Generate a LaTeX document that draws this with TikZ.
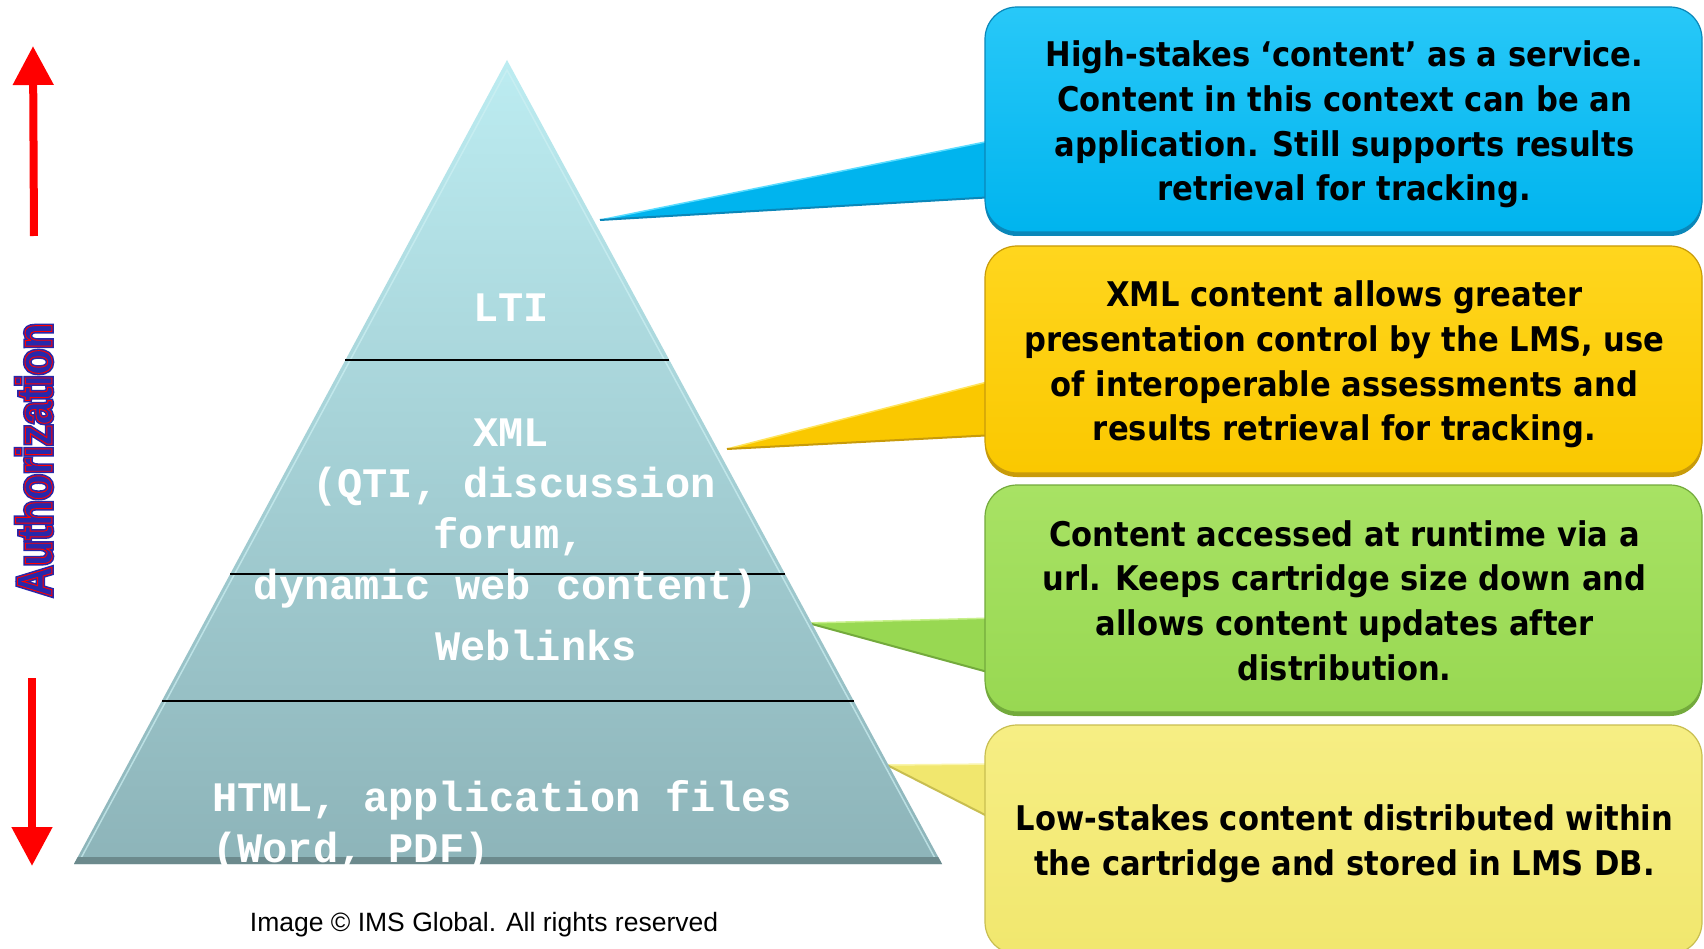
\documentclass[tikz,border=0pt]{standalone}
\usepackage{fontspec}
\setmainfont[FakeStretch=0.9]{DejaVu Sans}
\newfontfamily\monofont{Liberation Mono}
\newfontfamily\capfont{Liberation Sans}
\newfontfamily\authfont[FakeStretch=0.85]{Liberation Sans}
\usetikzlibrary{arrows.meta,shadows,calc}
\pgfdeclarelayer{bg}
\pgfdeclarelayer{tails}
\pgfsetlayers{bg,tails,main}
\definecolor{pyrtop}{RGB}{188,236,241}
\definecolor{pyrbot}{RGB}{141,180,185}
\definecolor{pyrhi}{RGB}{205,240,243}
\definecolor{pyredge}{RGB}{108,138,141}
\definecolor{bluetop}{RGB}{40,200,248}
\definecolor{bluebox}{RGB}{0,180,238}
\definecolor{bluehi}{RGB}{90,220,255}
\definecolor{blueedge}{RGB}{10,135,185}
\definecolor{goldtop}{RGB}{255,214,30}
\definecolor{goldbox}{RGB}{250,200,0}
\definecolor{goldhi}{RGB}{255,228,90}
\definecolor{goldedge}{RGB}{200,155,10}
\definecolor{greentop}{RGB}{168,226,100}
\definecolor{greenbox}{RGB}{152,216,82}
\definecolor{greenhi}{RGB}{200,240,140}
\definecolor{greenedge}{RGB}{115,170,60}
\definecolor{paletop}{RGB}{246,238,132}
\definecolor{palebox}{RGB}{241,231,110}
\definecolor{palehi}{RGB}{250,245,170}
\definecolor{paleedge}{RGB}{200,190,80}
\definecolor{authblue}{RGB}{40,40,170}
\definecolor{arrowred}{RGB}{255,0,0}
\newcommand{\trmode}[2]{\special{pdf:literal direct #1 Tr #2 w}}
\tikzset{
  infobox/.style={rounded corners=32pt, minimum width=717pt, inner sep=0pt,
    line width=1.2pt},
  boxtxt/.style={inner sep=0pt, align=center,
    font=\fontsize{34}{44.6}\selectfont\bfseries, text=black},
  pyrtxt/.style={font=\monofont\bfseries\fontsize{42}{51}\selectfont,
    text=white, inner sep=0pt, anchor=base},
  divider/.style={draw=black, line width=2pt},
  redarrow/.style={draw=arrowred, line width=8pt,
    -{Triangle[width=39pt,length=39pt]}},
  authtxt/.style={rotate=90, inner sep=0pt,
    font=\authfont\bfseries\fontsize{50}{50}\selectfont},
}
\begin{document}
\begin{tikzpicture}[x=1pt,y=-1pt]
\useasboundingbox (0,0) rectangle (1704,949);
\begin{pgfonlayer}{bg}
\fill[white] (0,0) rectangle (1704,949);
\end{pgfonlayer}

% ---------- boxes ----------
\node[infobox, minimum height=225pt, top color=bluetop, bottom color=bluebox,
  draw=blueedge, drop shadow={shadow xshift=0pt,shadow yshift=-4pt,fill=blueedge,opacity=1}]
  (blue) at (1343.5,119.5) {};
\node[infobox, minimum height=227pt, top color=goldtop, bottom color=goldbox,
  draw=goldedge, drop shadow={shadow xshift=0pt,shadow yshift=-4pt,fill=goldedge,opacity=1}]
  (gold) at (1343.5,359.5) {};
\node[infobox, minimum height=227pt, top color=greentop, bottom color=greenbox,
  draw=greenedge, drop shadow={shadow xshift=0pt,shadow yshift=-4pt,fill=greenedge,opacity=1}]
  (green) at (1343.5,598.5) {};
\node[infobox, minimum height=229pt, top color=paletop, bottom color=palebox,
  draw=paleedge]
  (pale) at (1343.5,839.5) {};

\node[boxtxt] (bluetext) at ($(blue.center)+(1,5)$)
  {High-stakes ‘content’ as a service.\\Content in this context can be an\\application. Still supports results\\retrieval for tracking.};
\node[boxtxt] (goldtext) at ($(gold.center)+(1,5)$)
  {XML content allows greater\\presentation control by the LMS, use\\of interoperable assessments and\\results retrieval for tracking.};
\node[boxtxt] (greentext) at ($(green.center)+(1,2)$)
  {Content accessed at runtime via a\\url. Keeps cartridge size down and\\allows content updates after\\distribution.};
\node[boxtxt] (paletext) at ($(pale.center)+(1,4)$)
  {Low-stakes content distributed within\\the cartridge and stored in LMS DB.};

% ---------- tails ----------
\coordinate (btip) at (600,220);  \coordinate (bt1) at (995,140); \coordinate (bt2) at (995,197);
\coordinate (gtip) at (727,449);  \coordinate (gt1) at (995,380); \coordinate (gt2) at (995,435);
\coordinate (ntip) at (808,623);  \coordinate (nt1) at (995,618); \coordinate (nt2) at (995,674);
\coordinate (ptip) at (887,765);  \coordinate (pt1) at (995,764); \coordinate (pt2) at (995,820);
\begin{pgfonlayer}{tails}
\fill[bluebox] (bt1) -- (btip) -- (bt2) -- cycle;
\draw[bluehi, line width=1.5pt] (btip) -- (bt1);
\draw[blueedge, line width=2pt] (btip) -- (bt2);
\fill[goldbox] (gt1) -- (gtip) -- (gt2) -- cycle;
\draw[goldhi, line width=1.5pt] (gtip) -- (gt1);
\draw[goldedge, line width=2pt] (gtip) -- (gt2);
\fill[greenbox] (nt1) -- (ntip) -- (nt2) -- cycle;
\draw[greenhi, line width=1.5pt] (ntip) -- (nt1);
\draw[greenedge, line width=2pt] (ntip) -- (nt2);
\fill[palebox] (pt1) -- (ptip) -- (pt2) -- cycle;
\draw[palehi, line width=1.5pt] (ptip) -- (pt1);
\draw[paleedge, line width=2pt] (ptip) -- (pt2);
\end{pgfonlayer}

% ---------- pyramid ----------
\coordinate (apex) at (507,60);
\coordinate (bl) at (74,864);
\coordinate (br) at (942,864);
\shade[top color=pyrtop, bottom color=pyrbot] (apex) -- (bl) -- (br) -- cycle;
\draw[pyrhi, line width=1.5pt, opacity=0.7] ($(bl)+(6,-4)$) -- ($(apex)+(0,10)$) -- ($(br)+(-6,-4)$);
\fill[pyredge] ($(apex)!0.9913!(bl)$) -- (bl) -- (br) -- ($(apex)!0.9913!(br)$) -- cycle;
\draw[divider] ($(apex)!0.3731!(bl)$) -- ($(apex)!0.3731!(br)$);
\draw[divider] ($(apex)!0.6393!(bl)$) -- ($(apex)!0.6393!(br)$);
\draw[divider] ($(apex)!0.7973!(bl)$) -- ($(apex)!0.7973!(br)$);

\node[pyrtxt] (lti) at (511,321.6) {LTI};
\node[pyrtxt] (xml1) at (511,446.6) {XML};
\node[pyrtxt] (xml2) at (514,497.5) {(QTI, discussion};
\node[pyrtxt] (xml3) at (509,548) {forum,};
\node[pyrtxt] (xml4) at (506,599) {dynamic web content)};
\node[pyrtxt] (web) at (536,660) {Weblinks};
\node[pyrtxt] (html1) at (502,811) {HTML, application files};
\node[pyrtxt, anchor=base west] (html2) at (212,862) {(Word, PDF)};

% ---------- caption ----------
\node[inner sep=0pt, anchor=base, font=\capfont\fontsize{26.5}{30}\selectfont]
  (cap) at (484,931) {Image © IMS Global. All rights reserved};

% ---------- authorization axis ----------
\node[authtxt, text=authblue] (auth) at (34,460) {\trmode{2}{4}Authorization\trmode{0}{1}};
\node[authtxt, text=arrowred] (authred) at (34,460) {\trmode{1}{0.9}Authorization\trmode{0}{1}};
\coordinate (upstart) at (34,236);
\coordinate (uptip) at (33,46);
\coordinate (downstart) at (32,678);
\coordinate (downtip) at (32,866);
\draw[redarrow] (upstart) -- (uptip);
\draw[redarrow] (downstart) -- (downtip);
\end{tikzpicture}
\end{document}
